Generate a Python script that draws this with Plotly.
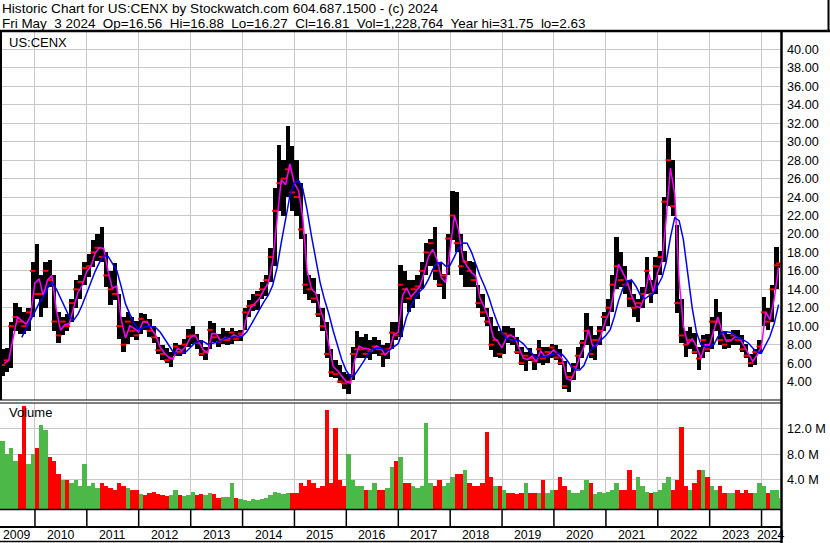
import numpy as np
import pandas as pd
import plotly.graph_objects as go

# ---------------- data (monthly) ----------------
first_month = "2009-05"
last_month = "2024-05"
last_day = "2024-05-03"

high = [
    7.5, 7.6, 10.5, 12.5, 12.1, 11.5, 12.0, 17.0,                       # 2009 May-Dec
    18.9, 15.5, 17.0, 17.2, 15.5, 11.5, 11.0, 11.3, 13.0, 15.0, 15.5, 17.0,  # 2010
    17.8, 19.3, 20.0, 20.8, 18.0, 16.0, 16.8, 13.5, 11.0, 11.5, 11.0, 10.6,  # 2011
    11.4, 11.3, 10.8, 10.0, 8.8, 8.0, 7.6, 7.2, 8.2, 8.0, 8.6, 9.7,          # 2012
    10.0, 9.2, 8.5, 7.8, 10.6, 10.4, 9.2, 9.8, 9.5, 9.8, 9.5, 9.6,           # 2013
    12.0, 12.8, 13.5, 13.8, 14.8, 15.5, 18.5, 25.0, 29.6, 28.0, 31.75, 29.5, # 2014
    28.0, 25.5, 20.0, 15.5, 15.2, 13.5, 12.0, 10.5, 7.5, 6.3, 5.8, 5.0,      # 2015
    4.8, 7.8, 9.5, 8.8, 9.2, 8.5, 8.8, 8.5, 8.0, 8.2, 10.5, 10.5,            # 2016
    16.6, 16.0, 15.0, 15.0, 15.5, 17.0, 19.0, 19.5, 20.7, 17.0, 15.7, 20.0,  # 2017
    24.7, 24.5, 20.0, 18.2, 17.1, 17.0, 14.5, 13.5, 12.0, 11.0, 10.0, 9.5,   # 2018
    10.0, 10.0, 9.8, 8.8, 7.8, 7.2, 7.6, 7.0, 8.5, 7.8, 7.8, 8.1,            # 2019
    8.0, 7.5, 6.2, 5.0, 6.0, 7.8, 8.5, 11.4, 10.0, 9.0, 10.0, 11.5,          # 2020
    13.0, 15.5, 19.7, 18.0, 16.5, 15.0, 13.5, 13.0, 14.3, 17.5, 15.0, 17.5,  # 2021
    18.2, 24.0, 30.4, 28.0, 21.0, 13.0, 9.5, 9.9, 9.3, 7.8, 9.0, 9.2,        # 2022
    11.0, 13.0, 11.5, 9.5, 9.2, 9.6, 9.6, 9.0, 8.1, 7.0, 7.5, 8.5,           # 2023
    13.2, 12.0, 14.5, 18.6, 16.88,                                           # 2024 Jan-May
]
low = [
    4.6, 5.0, 5.5, 9.5, 9.2, 9.2, 9.5, 11.0,
    13.0, 11.0, 12.0, 14.3, 9.5, 8.2, 9.0, 9.5, 10.5, 12.0, 13.0, 14.5,
    15.3, 16.4, 17.1, 17.0, 14.3, 12.3, 12.8, 8.6, 7.2, 8.1, 8.8, 8.5,
    9.2, 9.6, 8.8, 8.2, 7.0, 6.3, 6.0, 5.6, 6.8, 6.8, 7.0, 7.8,
    8.1, 7.5, 6.8, 6.3, 7.5, 8.3, 7.7, 8.1, 8.0, 8.1, 8.4, 8.4,
    9.6, 11.0, 11.6, 11.8, 13.0, 13.3, 14.8, 16.5, 22.5, 22.0, 24.0, 22.5,
    22.0, 19.5, 13.5, 12.8, 12.5, 11.0, 9.5, 6.5, 4.5, 4.4, 3.8, 3.2,
    2.63, 4.2, 6.5, 6.5, 6.5, 6.3, 7.0, 6.8, 5.6, 6.4, 7.5, 8.5,
    8.8, 12.5, 11.5, 12.0, 13.0, 14.0, 15.5, 16.5, 15.0, 14.3, 13.0, 15.5,
    19.3, 18.0, 15.5, 14.3, 14.3, 14.3, 12.0, 11.0, 10.0, 7.4, 6.7, 6.5,
    7.0, 8.2, 8.0, 7.0, 5.8, 5.1, 6.2, 5.2, 6.0, 5.8, 6.0, 6.5,
    6.3, 5.8, 3.2, 2.9, 4.2, 5.4, 6.5, 8.0, 6.5, 6.3, 8.0, 9.5,
    10.0, 11.5, 14.0, 14.3, 13.5, 12.1, 11.0, 10.5, 12.0, 13.5, 12.5, 13.5,
    15.5, 17.0, 23.0, 22.0, 11.4, 8.2, 6.7, 7.5, 7.0, 5.3, 6.5, 7.2,
    7.5, 9.5, 8.0, 7.5, 7.6, 8.0, 8.0, 7.2, 6.5, 5.6, 5.8, 7.0,
    10.0, 9.6, 10.5, 14.0, 16.27,
]
close = [
    5.8, 6.3, 10.0, 11.0, 10.5, 10.0, 11.5, 16.0,
    13.5, 13.5, 16.0, 15.0, 10.5, 9.0, 10.5, 10.0, 12.5, 14.0, 14.8, 16.3,
    16.5, 18.0, 18.5, 17.5, 15.5, 14.0, 13.5, 10.0, 8.0, 10.5, 9.5, 9.0,
    10.8, 10.5, 9.5, 8.8, 7.4, 7.0, 6.3, 6.5, 7.8, 7.2, 8.0, 8.9,
    9.0, 8.2, 7.0, 7.2, 9.6, 8.8, 8.3, 8.5, 8.5, 9.3, 8.6, 9.2,
    11.5, 12.2, 12.3, 13.4, 14.0, 15.0, 17.5, 22.5, 25.5, 26.0, 27.0, 24.5,
    24.0, 20.5, 14.5, 14.0, 13.0, 11.3, 10.0, 7.0, 5.0, 4.8, 4.0, 3.8,
    4.0, 7.0, 7.5, 7.5, 7.0, 7.3, 7.8, 7.5, 7.0, 7.5, 9.3, 9.0,
    14.5, 14.0, 13.0, 14.0, 14.3, 16.0, 18.0, 19.0, 16.0, 14.5, 15.5, 19.5,
    22.0, 19.0, 16.5, 17.0, 16.0, 15.0, 12.5, 11.5, 10.5, 8.0, 8.5, 7.0,
    9.2, 9.0, 8.5, 7.2, 6.0, 6.8, 6.5, 6.2, 7.5, 6.5, 7.2, 7.7,
    6.6, 6.0, 3.5, 4.5, 5.6, 6.8, 8.2, 9.5, 7.0, 8.5, 9.5, 11.0,
    12.0, 14.5, 16.5, 15.0, 14.5, 13.0, 12.0, 12.5, 13.5, 16.0, 13.5, 16.5,
    17.5, 23.5, 28.0, 23.0, 12.5, 9.0, 8.0, 8.5, 7.2, 6.5, 8.5, 7.5,
    10.5, 10.5, 8.5, 8.0, 8.5, 9.0, 8.5, 7.5, 6.8, 6.0, 7.2, 7.8,
    11.5, 10.5, 14.0, 16.6, 16.81,
]
volume_m = [
    10, 8, 9, 7, 8, 15.4, 6.5, 8,
    9, 12.5, 11.8, 7.5, 7, 5, 4, 4, 3.5, 4, 3, 6.5,
    3, 3.5, 2.8, 3.5, 3, 2.8, 2.5, 3.5, 3, 2.8, 2.5, 2.5,
    1.8, 1.6, 2.0, 2.2, 1.8, 1.6, 1.5, 1.6, 2.4, 1.6, 1.5, 1.6,
    2.2, 1.6, 1.8, 1.6, 2.0, 1.8, 1.2, 1.4, 1.4, 3.5, 1.2, 1.0,
    0.9, 0.8, 1.0, 0.9, 1.0, 1.2, 1.6, 2.2, 2.0, 1.8, 2.0, 2.0,
    2.0, 3.5, 3.0, 4.0, 3.5, 2.8, 3.0, 14.9, 3.5, 12.0, 4.0, 3.0,
    8.0, 4.0, 3.0, 3.0, 2.5, 2.5, 3.5, 2.5, 2.5, 2.8, 6.0, 7.0,
    7.5, 3.5, 3.5, 3.0, 2.8, 3.0, 12.8, 3.5, 3.0, 4.0, 3.0, 3.5,
    4.5, 5.0, 5.0, 5.5, 3.5, 3.0, 3.0, 3.5, 11.5, 4.5, 3.0, 3.0,
    2.5, 2.0, 2.0, 1.8, 2.0, 3.5, 2.0, 2.0, 2.0, 4.0, 2.0, 2.5,
    2.5, 4.5, 3.0, 2.5, 2.0, 2.0, 2.5, 4.0, 3.5, 1.8, 2.2, 2.0,
    2.2, 2.5, 3.5, 2.5, 2.5, 5.5, 2.5, 4.5, 3.0, 2.2, 2.0, 2.2,
    2.5, 3.5, 4.5, 2.5, 4.0, 12.2, 3.0, 2.5, 3.5, 5.5, 5.5, 4.5,
    3.0, 2.5, 3.0, 2.0, 2.0, 2.0, 2.5, 2.0, 2.5, 2.0, 2.0, 3.5,
    3.0, 2.0, 2.5, 2.5, 1.23,
]
price_ticks = [4, 6, 8, 10, 12, 14, 16, 18, 20, 22, 24, 26, 28, 30, 32, 34, 36, 38, 40]
volume_ticks_m = [4, 8, 12]
year_labels = list(range(2009, 2025))

title_line1 = "Historic Chart for US:CENX by Stockwatch.com 604.687.1500 - (c) 2024"
title_line2 = "Fri May  3 2024  Op=16.56  Hi=16.88  Lo=16.27  Cl=16.81  Vol=1,228,764  Year hi=31.75  lo=2.63"

# ---------------- layout constants ----------------
W, H = 830, 543
FONT = "Arial, Liberation Sans, sans-serif"
PLOT_RIGHT = 781          # px
PRICE_TOP, PRICE_BOT = 31, 400
VOL_TOP, VOL_BOT = 403, 509
X_START, X_END = "2009-04-30", "2024-05-17"
VOL_FLOOR = -0.5e6
VOL_TOP_VAL = 15.94e6

def px(x):
    return x / W

def py(y):
    return 1 - y / H

# ---------------- derived series ----------------
hi = np.array(high, float)
lo = np.array(low, float)
cl = np.array(close, float)
vol = np.array(volume_m, float) * 1e6

months = pd.period_range(first_month, last_month, freq="M")
starts = months.start_time
ends = (months + 1).start_time
ends = ends.where(months != months[-1], pd.Timestamp(last_day) + pd.Timedelta(days=1))
centers = starts + (ends - starts) / 2
widths = (ends - starts).total_seconds().to_numpy() * 1000

tp = (hi + lo + cl) / 3
full = slice(0, len(months) - 1)               # complete months only
ma_x = (ends - pd.Timedelta(days=1))[full]
tpf = tp[full]
pink = tpf                                      # ~20-day average
blue = np.full(len(tpf), np.nan)                # ~100-day average
for i in range(4, len(tpf)):
    blue[i] = (0.5 * tpf[i - 4] + tpf[i - 3] + tpf[i - 2] + tpf[i - 1] + tpf[i]) / 4.5

up = np.concatenate([[True], cl[1:] >= cl[:-1]])
vol_colors = np.where(up, "#4cb848", "#ff0000")

# ---------------- figure ----------------
fig = go.Figure()

fig.add_trace(go.Bar(x=centers, y=hi - lo, base=lo, width=widths,
                     marker=dict(color="#000000", line=dict(width=0)),
                     xaxis="x", yaxis="y", showlegend=False, hoverinfo="skip"))
fig.add_trace(go.Scatter(x=centers, y=cl, mode="markers",
                         marker=dict(symbol="line-ew", size=4, line=dict(width=2, color="#ff0000")),
                         xaxis="x", yaxis="y", showlegend=False, hoverinfo="skip"))
fig.add_trace(go.Scatter(x=ma_x, y=pink, mode="lines",
                         line=dict(color="#ff00ff", width=1.5),
                         xaxis="x", yaxis="y", showlegend=False, hoverinfo="skip"))
fig.add_trace(go.Scatter(x=ma_x, y=blue, mode="lines",
                         line=dict(color="#0000ff", width=1.5),
                         xaxis="x", yaxis="y", showlegend=False, hoverinfo="skip"))

fig.add_trace(go.Bar(x=centers, y=vol - VOL_FLOOR, base=VOL_FLOOR, width=widths,
                     marker=dict(color=vol_colors, line=dict(width=0)),
                     xaxis="x2", yaxis="y2", showlegend=False, hoverinfo="skip"))

grid = "#c8c8c8"
xcommon = dict(range=[X_START, X_END], domain=[0, px(PLOT_RIGHT)], type="date",
               showgrid=True, gridcolor=grid, gridwidth=1,
               tick0="2010-01-01", dtick="M12", showticklabels=False,
               ticks="", zeroline=False, showline=False, automargin=False)
tickfont = dict(family=FONT, size=12.7, color="#000000")
fig.update_layout(
    width=W, height=H,
    margin=dict(l=0, r=0, t=0, b=0, pad=0, autoexpand=False),
    paper_bgcolor="white", plot_bgcolor="white",
    barmode="overlay", bargap=0,
    font=dict(family=FONT, size=12, color="#000000"),
    xaxis=dict(anchor="y", **xcommon),
    xaxis2=dict(anchor="y2", matches="x", **xcommon),
    yaxis=dict(domain=[py(PRICE_BOT), py(PRICE_TOP)], range=[2, 42], side="right",
               anchor="x", tickvals=price_ticks,
               ticktext=[f"{v:.2f}" for v in price_ticks],
               showgrid=True, gridcolor=grid, gridwidth=1, zeroline=False,
               ticks="", ticklabelstandoff=5, automargin=False, tickfont=tickfont),
    yaxis2=dict(domain=[py(VOL_BOT), py(VOL_TOP)], range=[VOL_FLOOR, VOL_TOP_VAL], side="right",
                anchor="x2", tickvals=[v * 1e6 for v in volume_ticks_m],
                ticktext=[f"{v:.1f} M" for v in volume_ticks_m],
                showgrid=True, gridcolor=grid, gridwidth=1, zeroline=False,
                ticks="", ticklabelstandoff=5, automargin=False, tickfont=tickfont),
    hovermode=False,
)

black = "#000000"
shapes = []
def hline(y, x0, x1, w):
    shapes.append(dict(type="line", xref="paper", yref="paper", x0=px(x0), x1=px(x1),
                       y0=py(y), y1=py(y), line=dict(color=black, width=w)))
def vline(x, y0, y1, w):
    shapes.append(dict(type="line", xref="paper", yref="paper", x0=px(x), x1=px(x),
                       y0=py(y0), y1=py(y1), line=dict(color=black, width=w)))

hline(31, 0, W, 2.5)            # header bottom / price top
vline(828.5, 0, 31, 2)          # header right border
vline(1, 31, 400, 2)            # price left border
vline(PLOT_RIGHT + 0.5, 31, H, 2.5)
hline(400, 0, PLOT_RIGHT, 1.2)
hline(403, 0, PLOT_RIGHT, 1.2)
hline(509.5, 0, PLOT_RIGHT, 1.5)
hline(527, 0, PLOT_RIGHT, 2)
hline(541.5, 0, PLOT_RIGHT, 1.5)
for yr in year_labels[1:]:
    shapes.append(dict(type="line", xref="x", yref="paper",
                       x0=f"{yr}-01-01", x1=f"{yr}-01-01", y0=py(510), y1=py(527),
                       line=dict(color=black, width=1.5)))
fig.update_layout(shapes=shapes)

ann = []
def text(x, y, s, size=13, xanchor="left"):
    ann.append(dict(x=px(x), y=py(y), xref="paper", yref="paper", text=s, showarrow=False,
                    xanchor=xanchor, yanchor="middle", borderpad=0,
                    font=dict(family=FONT, size=size, color=black)))

text(1, 8.5, title_line1, size=13.6)
text(1, 23, title_line2.replace("  ", "\u00a0\u00a0"), size=13.45)
text(8, 42, "US:CENX", size=13)
text(8, 413, "Volume", size=13)

x0 = pd.Timestamp(X_START)
x1 = pd.Timestamp(X_END) - pd.Timedelta(days=4)
for yr in year_labels:
    a = max(pd.Timestamp(f"{yr}-01-01"), x0)
    b = min(pd.Timestamp(f"{yr + 1}-01-01"), x1)
    mid = a + (b - a) / 2
    ann.append(dict(x=mid, y=py(535), xref="x", yref="paper", text=str(yr), showarrow=False,
                    xanchor="center", yanchor="middle", borderpad=0,
                    font=dict(family=FONT, size=12.3, color=black)))
fig.update_layout(annotations=ann)

fig.write_html("out.html", config={"displayModeBar": False},
               post_script="document.body.style.margin='0px';document.body.style.overflow='hidden';")
